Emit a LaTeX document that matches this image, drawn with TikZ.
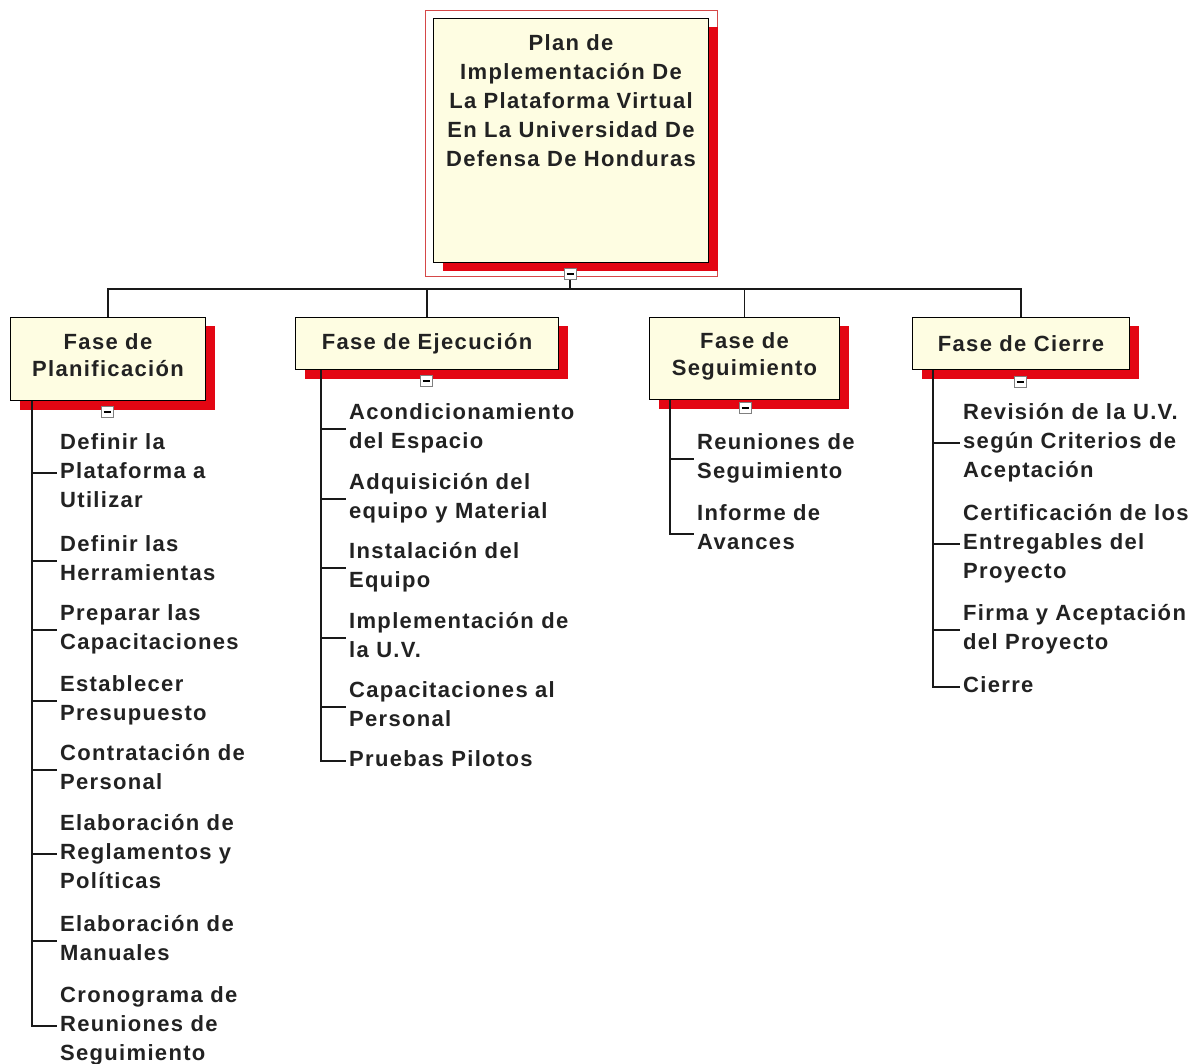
\documentclass[tikz,border=0pt]{standalone}
\usepackage{fontspec}
\newfontfamily\wbsfont{Liberation Sans}[LetterSpace=6]
\usetikzlibrary{shadows}
\definecolor{cream}{HTML}{FEFDE2}
\definecolor{shred}{HTML}{E30613}
\definecolor{frm}{HTML}{D54848}
\definecolor{txt}{HTML}{222222}
\begin{document}
\begin{tikzpicture}[x=1pt,y=-1pt,
  wbs/.style={font=\wbsfont\bfseries\fontsize{22}{29}\selectfont, text=txt},
  redshadow/.style={drop shadow={shadow xshift=9pt, shadow yshift=-9pt, fill=shred, opacity=1}},
  rootbox/.style={wbs, draw=black, line width=1pt, fill=cream, inner sep=5pt, anchor=north west, redshadow},
  phase/.style={font=\wbsfont\bfseries\fontsize{22}{27}\selectfont, text=txt, draw=black, line width=1pt, fill=cream, align=center, inner sep=0pt, anchor=north west, redshadow},
  item/.style={wbs, anchor=north west, align=left, inner xsep=3pt, inner ysep=0pt},
  collapse/.style={draw=gray, fill=white, minimum width=12pt, minimum height=11pt, inner sep=0pt, line width=0.8pt,
    path picture={\draw[black, line width=1.2pt] ([xshift=-3.5pt]path picture bounding box.center) -- ([xshift=3.5pt]path picture bounding box.center);}},
  conn/.style={draw=black!90, line width=1.5pt}
]
\useasboundingbox (0,0) rectangle (1196,1064);
\fill[white] (0,0) rectangle (1196,1064);

% root
\draw[frm, line width=1pt] (425,11) rectangle (717,277);
\node[rootbox] (root) at (433,18) {\parbox[c][234pt][t]{265pt}{\centering\vspace*{11pt}Plan de\\Implementación De\\La Plataforma Virtual\\En La Universidad De\\Defensa De Honduras}};

% phases
\node[phase, minimum width=195pt, minimum height=83pt] (p1) at (10,317) {Fase de\\Planificación\\[-19pt]};
\node[phase, minimum width=263pt, minimum height=52pt] (p2) at (295,317) {Fase de Ejecución};
\node[phase, minimum width=190pt, minimum height=82pt] (p3) at (649,317) {Fase de\\Seguimiento\\[-19pt]};
\node[phase, minimum width=217pt, minimum height=52pt] (p4) at (912,317) {Fase de Cierre};

% collapse markers
\node[collapse] (c0) at (570,274) {};
\node[collapse] (c1) at (107,412) {};
\node[collapse] (c2) at (426,381) {};
\node[collapse] (c3) at (745,408) {};
\node[collapse] (c4) at (1020,382) {};

% root connectors
\coordinate (bar) at (570,289);
\draw[conn] (c0.south) -- (bar);
\foreach \p in {p1,p2,p3,p4} \draw[conn] (bar) -| (\p.north);

% Planificacion items
\node[item] (a1) at (57,433) {Definir la\\Plataforma a\\Utilizar};
\node[item] (a2) at (57,535) {Definir las\\Herramientas};
\node[item] (a3) at (57,604) {Preparar las\\Capacitaciones};
\node[item] (a4) at (57,675) {Establecer\\Presupuesto};
\node[item] (a5) at (57,744) {Contratación de\\Personal};
\node[item] (a6) at (57,814) {Elaboración de\\Reglamentos y\\Políticas};
\node[item] (a7) at (57,915) {Elaboración de\\Manuales};
\node[item] (a8) at (57,986) {Cronograma de\\Reuniones de\\Seguimiento};

% Ejecucion items
\node[item] (b1) at (346,403) {Acondicionamiento\\del Espacio};
\node[item] (b2) at (346,473) {Adquisición del\\equipo y Material};
\node[item] (b3) at (346,542) {Instalación del\\Equipo};
\node[item] (b4) at (346,612) {Implementación de\\la U.V.};
\node[item] (b5) at (346,681) {Capacitaciones al\\Personal};
\node[item] (b6) at (346,750) {Pruebas Pilotos};

% Seguimiento items
\node[item] (s1) at (694,433) {Reuniones de\\Seguimiento};
\node[item] (s2) at (694,504) {Informe de\\Avances};

% Cierre items
\node[item] (d1) at (960,403) {Revisión de la U.V.\\según Criterios de\\Aceptación};
\node[item] (d2) at (960,504) {Certificación de los\\Entregables del\\Proyecto};
\node[item] (d3) at (960,604) {Firma y Aceptación\\del Proyecto};
\node[item] (d4) at (960,676) {Cierre};

% tree connectors
\foreach \c/\s in {a1/40,a2/26,a3/26,a4/26,a5/26,a6/40,a7/26,a8/40}
  \draw[conn] ([xshift=22pt]p1.south west) |- ([yshift=-\s pt]\c.north west);
\foreach \c/\s in {b1/26,b2/26,b3/26,b4/26,b5/26,b6/11}
  \draw[conn] ([xshift=26pt]p2.south west) |- ([yshift=-\s pt]\c.north west);
\foreach \c/\s in {s1/26,s2/30}
  \draw[conn] ([xshift=21pt]p3.south west) |- ([yshift=-\s pt]\c.north west);
\foreach \c/\s in {d1/40,d2/40,d3/26,d4/11}
  \draw[conn] ([xshift=21pt]p4.south west) |- ([yshift=-\s pt]\c.north west);
\end{tikzpicture}
\end{document}
